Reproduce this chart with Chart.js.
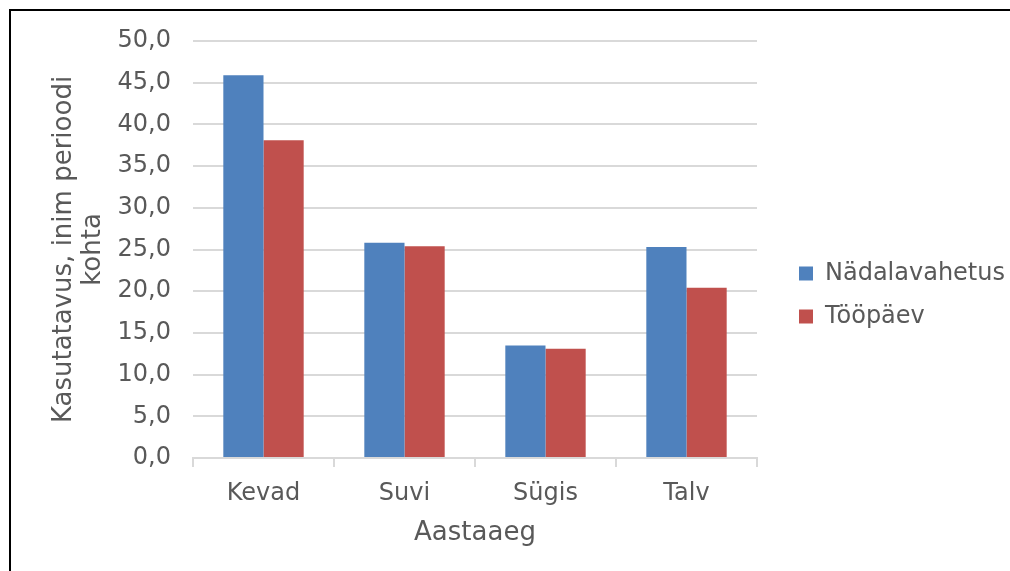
<!DOCTYPE html>
<html>
<head>
<meta charset="utf-8">
<script src="https://cdn.jsdelivr.net/npm/chart.js@4"></script>
<style>
  html, body { margin: 0; padding: 0; background: #fff; }
  #wrap { position: relative; width: 1010px; height: 571px; overflow: hidden; }
  #frame { position: absolute; left: 9px; top: 9px; width: 1100px; height: 700px; border: 2px solid #000; pointer-events: none; }
</style>
</head>
<body>
<div id="wrap">
  <canvas id="seasonChart" width="1010" height="571"></canvas>
  <div id="frame"></div>
</div>
<script>
// Andmed
const seasons = ['Kevad', 'Suvi', 'Sügis', 'Talv'];
const weekendValues = [45.9, 25.8, 13.5, 25.3];
const workdayValues = [38.1, 25.4, 13.1, 20.4];
const yTickLabels = ['0,0', '5,0', '10,0', '15,0', '20,0', '25,0', '30,0', '35,0', '40,0', '45,0', '50,0'];

const textColor = '#595959';
const gridColor = '#D9D9D9';
const fontFamily = "'DejaVu Sans', Verdana, sans-serif";

const ctx = document.getElementById('seasonChart').getContext('2d');

const config = {
  type: 'bar',
  data: {
    labels: seasons,
    datasets: [
      {
        label: 'Nädalavahetus',
        data: weekendValues,
        backgroundColor: '#4F81BD',
        borderWidth: 0
      },
      {
        label: 'Tööpäev',
        data: workdayValues,
        backgroundColor: '#C0504D',
        borderWidth: 0
      }
    ]
  },
  options: {
    responsive: false,
    animation: false,
    layout: {
      padding: { left: 50, right: 12, top: 41, bottom: 22 }
    },
    datasets: {
      bar: { categoryPercentage: 0.57, barPercentage: 1.0 }
    },
    plugins: {
      tooltip: { enabled: false },
      legend: {
        position: 'right',
        labels: {
          color: textColor,
          font: { family: fontFamily, size: 24 },
          boxWidth: 14,
          boxHeight: 14,
          padding: 19
        }
      }
    },
    scales: {
      x: {
        grid: {
          display: true,
          drawOnChartArea: false,
          drawTicks: true,
          tickLength: 9,
          color: gridColor,
          lineWidth: 2
        },
        border: { display: true, color: gridColor, width: 2 },
        ticks: {
          color: textColor,
          font: { family: fontFamily, size: 24 },
          padding: 12
        },
        title: {
          display: true,
          text: 'Aastaaeg',
          color: textColor,
          font: { family: fontFamily, size: 26 },
          padding: { top: 2, bottom: 0 }
        },
        afterFit: (scale) => { scale.height = 91; }
      },
      y: {
        min: 0,
        max: 50,
        ticks: {
          stepSize: 5,
          color: textColor,
          font: { family: fontFamily, size: 24 },
          padding: 22,
          callback: (value) => yTickLabels[Math.round(value / 5)]
        },
        grid: {
          color: gridColor,
          lineWidth: 2,
          drawTicks: false
        },
        border: { display: false },
        title: {
          display: true,
          text: ['Kasutatavus, inim perioodi', 'kohta'],
          color: textColor,
          font: { family: fontFamily, size: 26, lineHeight: 1.1 },
          padding: 0
        },
        afterFit: (scale) => { scale.width = 143; }
      }
    }
  },
  plugins: [{
    // legendi laius nii, et joonise parem serv jääks ~757 px juurde
    id: 'legendPlace',
    afterInit(chart) {
      const legend = chart.legend;
      const origFit = legend.fit.bind(legend);
      legend.fit = function () {
        origFit();
        this.width = 1010 - 12 - 757;
      };
    },
    afterLayout(chart) {
      chart.legend.left += 23;
      chart.legend.right += 23;
    }
  }]
};

const seasonChart = new Chart(ctx, config);
</script>
</body>
</html>
